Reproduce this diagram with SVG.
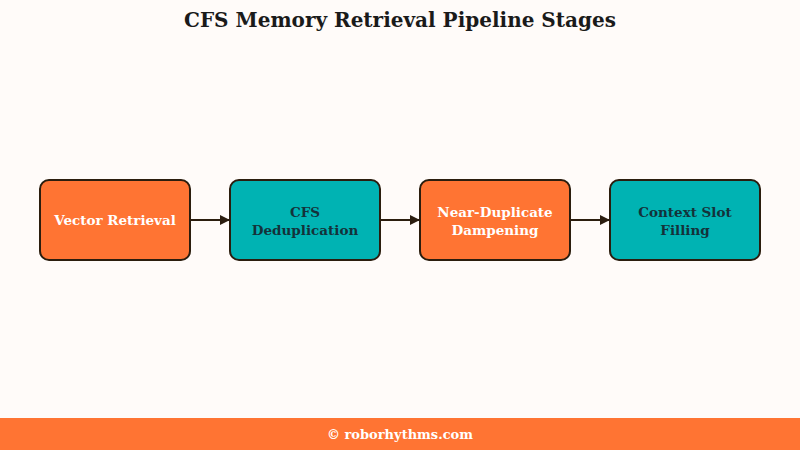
<svg xmlns="http://www.w3.org/2000/svg" width="800" height="450" viewBox="0 0 800 450">
<style>
text{font-family:"DejaVu Serif","Liberation Serif",serif;font-weight:bold;text-anchor:middle}
.n{stroke:#2b1d0e;stroke-width:2}
.o{fill:#ff7433}.t{fill:#00b3b3}
.lw{fill:#fff;font-size:13.5px}.ld{fill:#14323a;font-size:13.5px}
.c{stroke:#2b1d0e;stroke-width:2;fill:none;marker-end:url(#a)}
</style>
<defs><marker id="a" markerWidth="10" markerHeight="10" refX="9" refY="5" orient="auto" markerUnits="userSpaceOnUse"><path d="M0,0L10,5L0,10z" fill="#2b1d0e"/></marker></defs>
<rect width="800" height="450" fill="#fffbf9"/>
<text x="400" y="27" font-size="20" fill="#1a1a1a">CFS Memory Retrieval Pipeline Stages</text>
<g id="connectors">
<path class="c" d="M190,220H229"/>
<path class="c" d="M380,220H419"/>
<path class="c" d="M570,220H609"/>
</g>
<g id="n1"><rect class="n o" x="40" y="180" width="150" height="80" rx="9"/><text class="lw" x="115" y="225">Vector Retrieval</text></g>
<g id="n2"><rect class="n t" x="230" y="180" width="150" height="80" rx="9"/><text class="ld" x="305" y="217">CFS</text><text class="ld" x="305" y="235">Deduplication</text></g>
<g id="n3"><rect class="n o" x="420" y="180" width="150" height="80" rx="9"/><text class="lw" x="495" y="217">Near-Duplicate</text><text class="lw" x="495" y="235">Dampening</text></g>
<g id="n4"><rect class="n t" x="610" y="180" width="150" height="80" rx="9"/><text class="ld" x="685" y="217">Context Slot</text><text class="ld" x="685" y="235">Filling</text></g>
<rect x="0" y="418" width="800" height="32" fill="#ff7433"/>
<text x="400" y="439" font-size="13" fill="#fff">© roborhythms.com</text>
</svg>
